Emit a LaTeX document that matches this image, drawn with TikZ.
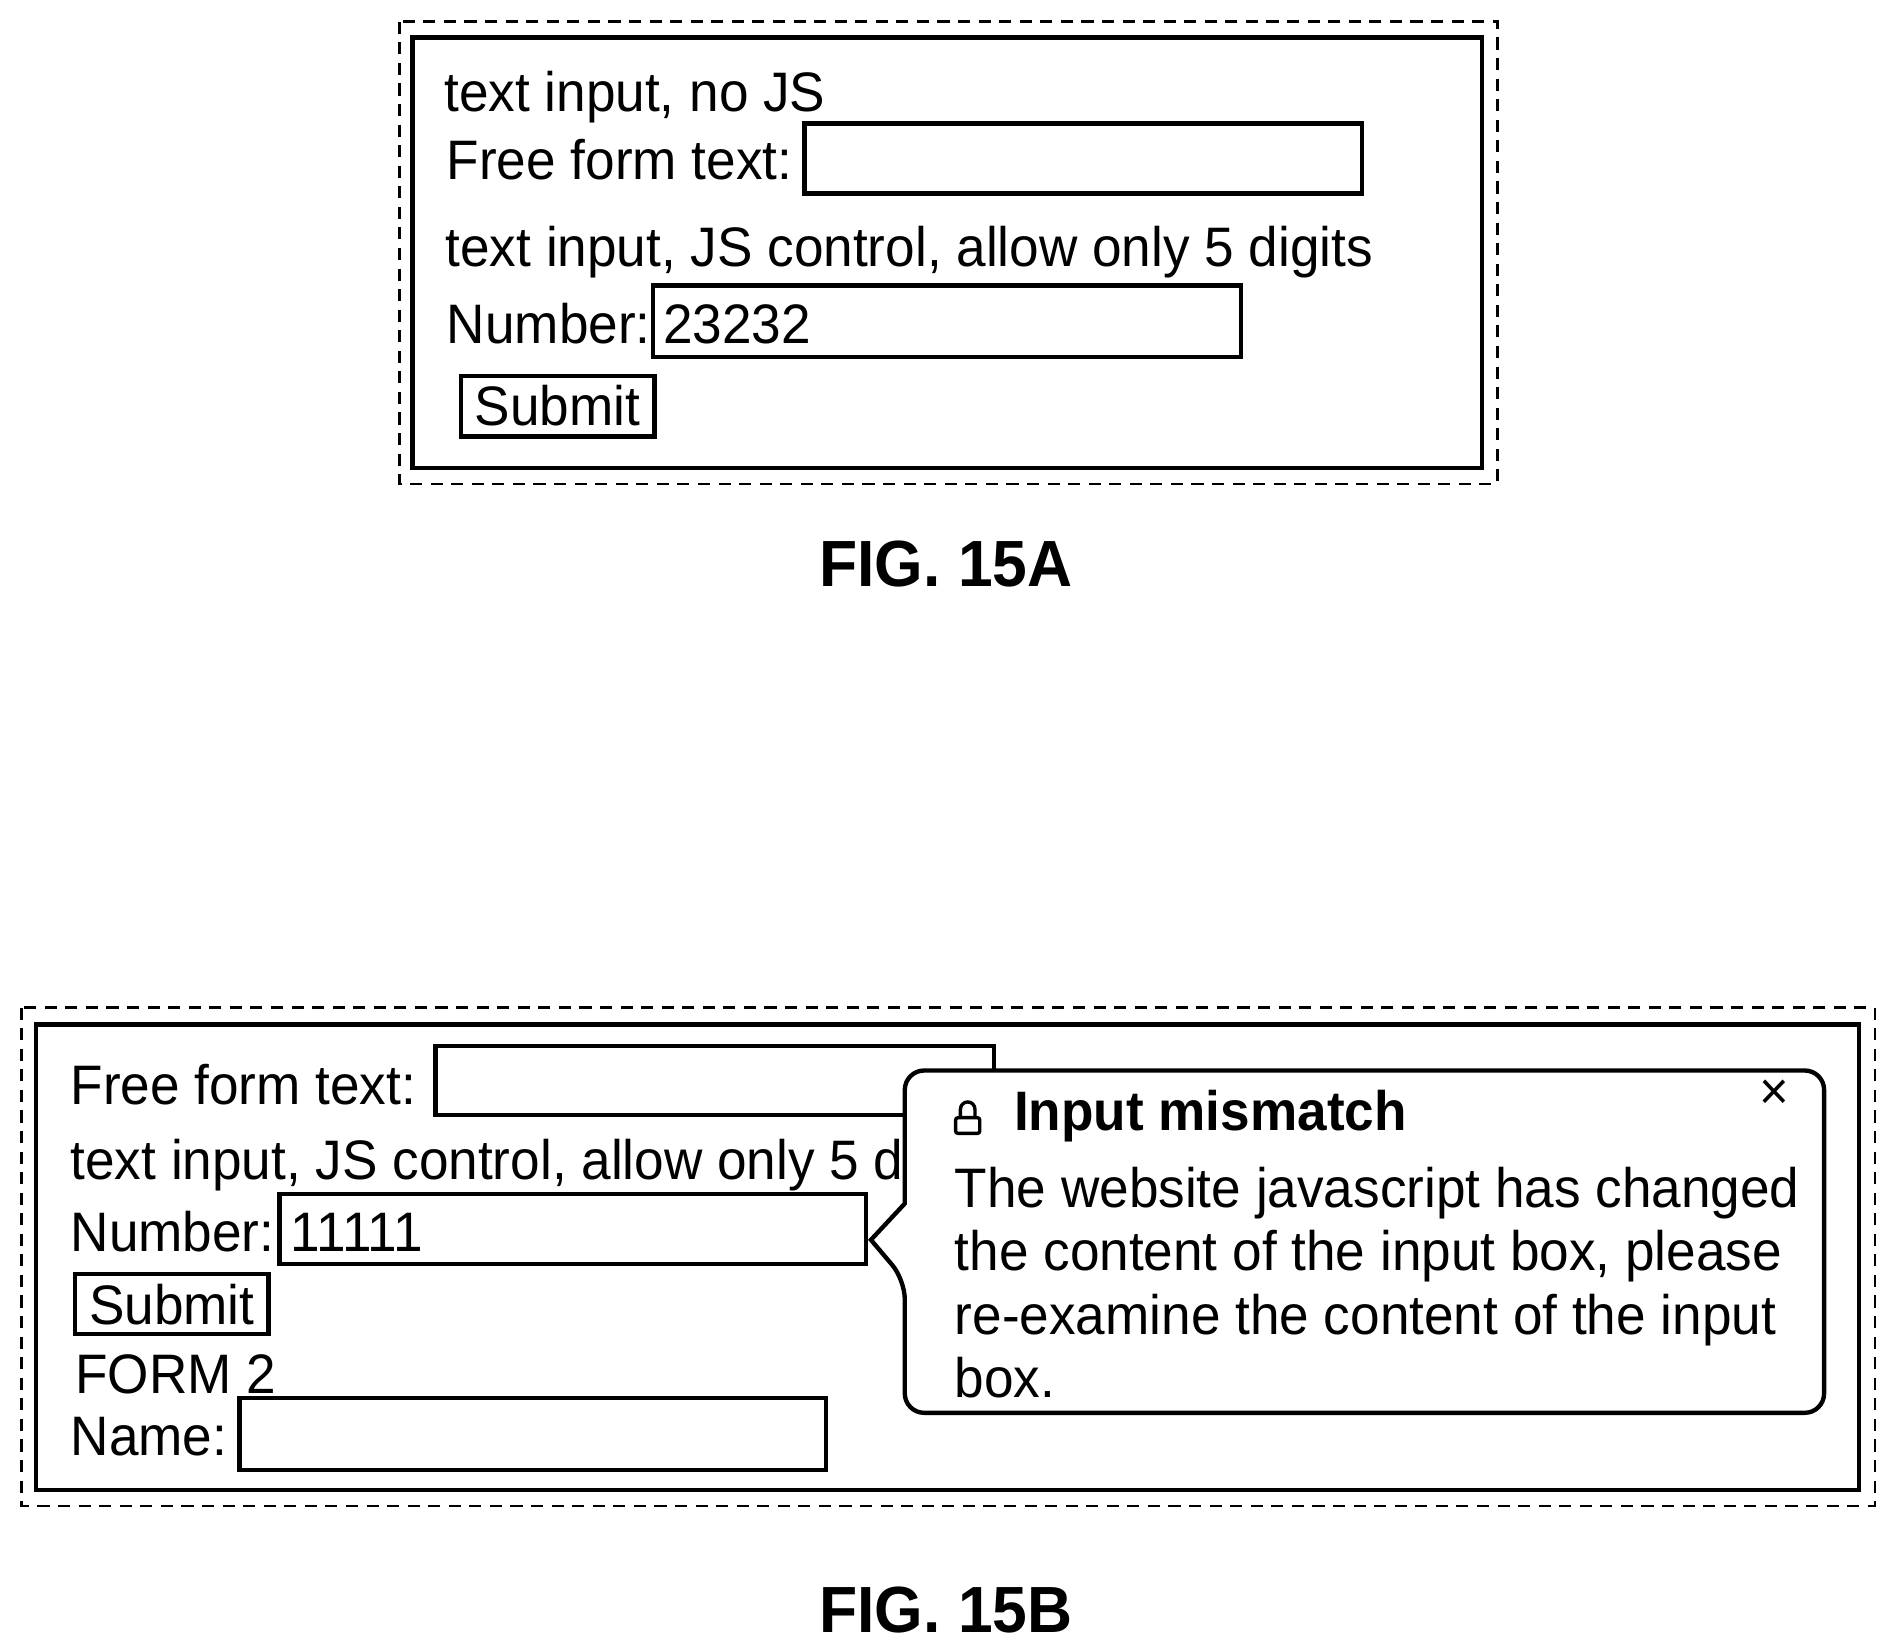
\documentclass[tikz,border=0pt]{standalone}
\usepackage{fontspec}
\setmainfont[FakeStretch=0.955]{Liberation Sans}
\begin{document}
\begin{tikzpicture}[x=0.5pt,y=-0.5pt,
  t/.style={anchor=base west,inner sep=0pt,font=\fontsize{23}{26}\selectfont},
  box/.style={draw,line width=1.8pt},
  dashbox/.style={draw,line width=1.1pt,dash pattern=on 5pt off 3.5pt},
  fig/.style={anchor=base,inner sep=0pt,font=\bfseries\fontsize{27}{30}\selectfont}]
\useasboundingbox (0,0) rectangle (1560,1363);
% FIG 15A
\draw[dashbox] (330,18) rectangle (1238,400);
\draw[box] (341,31) rectangle (1225,387);
\node[t] (a1) at (367,92) {text input, no JS};
\node[t] (a2) at (369,148) {Free form text:};
\draw[box] (665,102) rectangle (1126,160);
\node[t] (a3) at (368,220) {text input, JS control, allow only 5 digits};
\node[t] (a4) at (369,284) {Number:};
\draw[box] (540,236) rectangle (1026,295);
\node[t] (a5) at (548,284) {23232};
\draw[box] (381,311) rectangle (541,361);
\node[t,anchor=base] (a6) at (461,352) {Submit};
\node[fig] (fa) at (782,485) {FIG. 15A};
% FIG 15B
\draw[dashbox] (18,833) rectangle (1550,1245);
\draw[box] (30,847) rectangle (1537,1232);
\node[t] (b1) at (58,913) {Free form text:};
\draw[box] (360,865) rectangle (822,922);
\node[t] (b2) at (58,975) {text input, JS control, allow only 5 digits};
\node[t] (b3) at (58,1035) {Number:};
\draw[box] (231,987) rectangle (716,1045);
\node[t] (b4) at (240,1035) {11111};
\draw[box] (62,1053) rectangle (222,1103);
\node[t,anchor=base] (b5) at (142,1095) {Submit};
\node[t] (b6) at (62,1152) {FORM 2};
\node[t] (b7) at (58,1203) {Name:};
\draw[box] (198,1156) rectangle (683,1215);
% popup
\draw[box,fill=white,rounded corners=8pt] (748,885) -- (1508,885) -- (1508,1168) -- (748,1168) -- (748,1058) [sharp corners]-- (720,1025) -- (748,995) [rounded corners=8pt]-- cycle;
\draw[line width=1.4pt,rounded corners=1pt] (790,924) rectangle (810,937);
\draw[line width=1.4pt] (794,924) -- (794,917) arc (180:360:6) -- (806,924);
\node[t,font=\bfseries\fontsize{23}{26}\selectfont] (p0) at (838,935) {Input mismatch};
\node[t,anchor=center,font=\fontsize{22}{22}\selectfont] (px) at (1467,905) {×};
\node[t] (p1) at (789,998) {The website javascript has changed};
\node[t] (p2) at (789,1050) {the content of the input box, please};
\node[t] (p3) at (789,1103) {re-examine the content of the input};
\node[t] (p4) at (789,1155) {box.};
\node[fig] (fb) at (782,1350) {FIG. 15B};
\end{tikzpicture}
\end{document}
